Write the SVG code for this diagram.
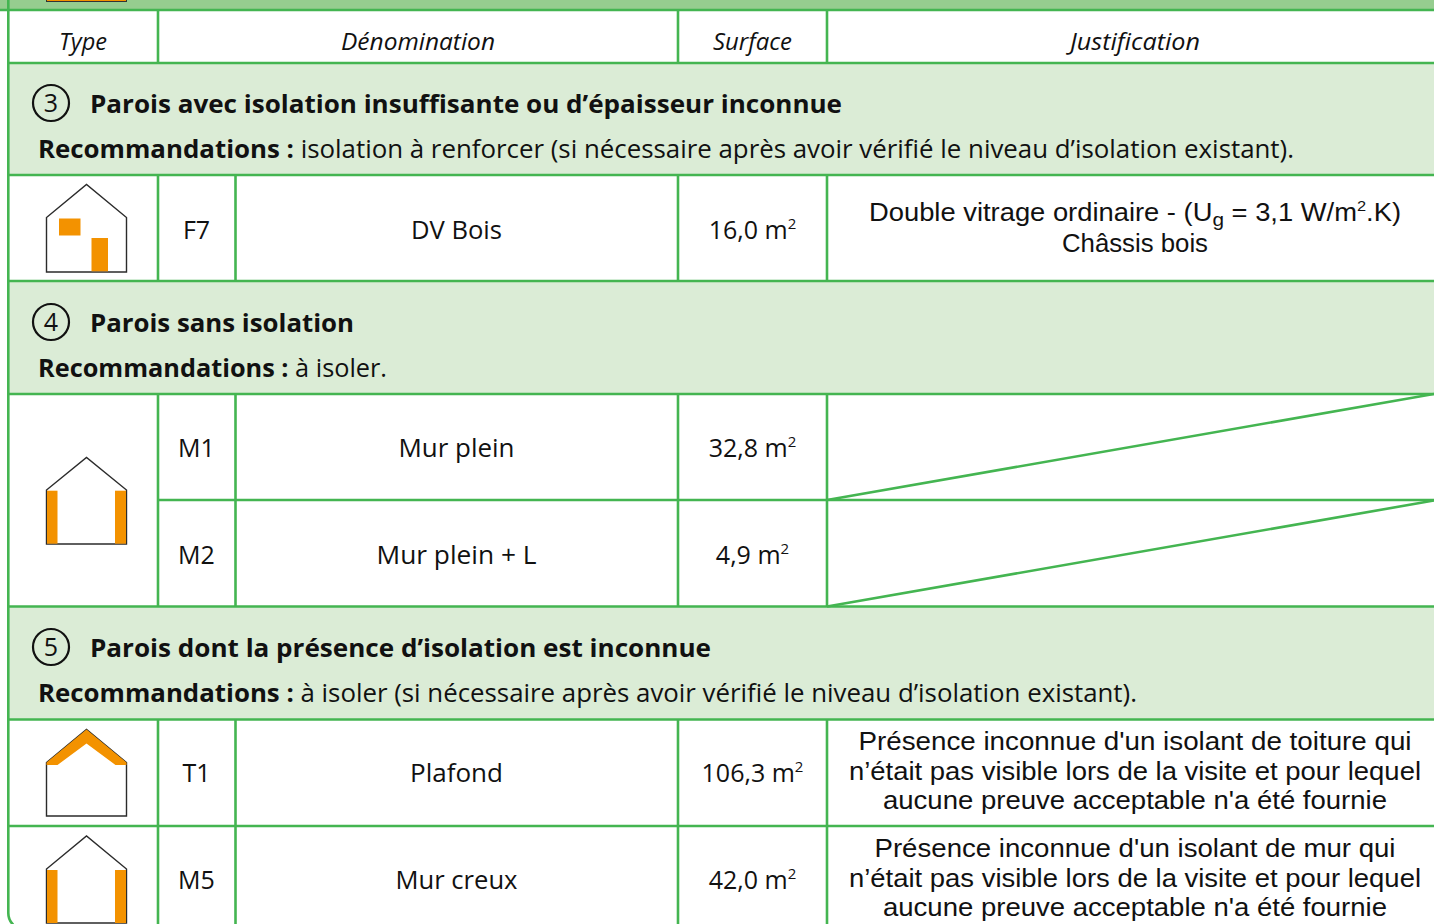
<svg xmlns="http://www.w3.org/2000/svg" width="1434" height="924" viewBox="0 0 1434 924">
<style>
.t{font-family:"Open Sans","Noto Sans","Liberation Sans",sans-serif;font-size:25px;fill:#111;}
.j{font-family:"Liberation Sans","Open Sans",sans-serif;font-size:25px;fill:#111;text-anchor:middle;}
.c{text-anchor:middle;}
.i{font-style:italic;font-size:24px;}
.b{font-weight:700;}
.ln{stroke:#44b551;stroke-width:2.6;fill:none;}
.band{fill:#dbecd6;}
.hs{fill:#fff;stroke:#2b2b2b;stroke-width:1.4;stroke-linejoin:miter;}
.or{fill:#f39200;}
.num{fill:none;stroke:#111;stroke-width:2.2;}
.sup{font-size:15px;}
</style>
<rect x="0" y="0" width="1434" height="924" fill="#fff"/>
<g id="top-band">
<rect x="0" y="0" width="1434" height="10" fill="#96cd8f"/>
<rect x="46.5" y="-20" width="80" height="21.5" fill="#f39200" stroke="#333" stroke-width="1"/>
</g>
<g id="bands">
<rect class="band" x="8" y="63" width="1426" height="112"/>
<rect class="band" x="8" y="281" width="1426" height="113"/>
<rect class="band" x="8" y="606.5" width="1426" height="113"/>
</g>
<g id="connectors">
<path class="ln" d="M0,10H1434M8.3,63H1434M8.3,175H1434M8.3,281H1434M8.3,394H1434M158,500H1434M8.3,606.5H1434M8.3,719.5H1434M8.3,826H1434"/>
<path class="ln" d="M158,10V63M678,10V63M827,10V63"/>
<path class="ln" d="M158,175V281M235.5,175V281M678,175V281M827,175V281"/>
<path class="ln" d="M158,394V606.5M235.5,394V606.5M678,394V606.5M827,394V606.5"/>
<path class="ln" d="M158,719.5V930M235.5,719.5V930M678,719.5V930M827,719.5V930"/>
<path class="ln" d="M827,500L1434,394M827,606.5L1434,500.5"/>
<path class="ln" d="M8.3,0V913A16.5,16.5 0 0 0 24.8,929.5H1434"/>
</g>
<g id="header">
<text class="t i c" x="83" y="50" textLength="48" lengthAdjust="spacingAndGlyphs">Type</text>
<text class="t i c" x="418" y="50" textLength="154" lengthAdjust="spacingAndGlyphs">Dénomination</text>
<text class="t i c" x="752.5" y="50" textLength="79" lengthAdjust="spacingAndGlyphs">Surface</text>
<text class="t i c" x="1135" y="50" textLength="130" lengthAdjust="spacingAndGlyphs">Justification</text>
</g>
<g id="section-3">
<circle class="num" cx="51" cy="103" r="18"/>
<text class="t c" x="51" y="112">3</text>
<text class="t b" x="90" y="113" textLength="752" lengthAdjust="spacingAndGlyphs">Parois avec isolation insuffisante ou d’épaisseur inconnue</text>
<text class="t" x="38" y="158" textLength="1256" lengthAdjust="spacingAndGlyphs"><tspan class="b">Recommandations :</tspan> isolation à renforcer (si nécessaire après avoir vérifié le niveau d’isolation existant).</text>
</g>
<g id="row-F7">
<path class="hs" d="M46.5,272V217.5L86.5,184.5L126.5,217.5V272Z"/>
<rect class="or" x="59" y="218.5" width="21.5" height="17"/>
<rect class="or" x="91.5" y="238" width="16.5" height="33.3"/>
<text class="t c" x="196.5" y="239">F7</text>
<text class="t c" x="456.5" y="239" textLength="91" lengthAdjust="spacingAndGlyphs">DV Bois</text>
<text class="t c" x="752.5" y="239">16,0 m<tspan class="sup" dy="-10">2</tspan></text>
<text class="j" x="1135" y="221" textLength="532" lengthAdjust="spacingAndGlyphs">Double vitrage ordinaire - (U<tspan font-size="19" dy="5">g</tspan><tspan dy="-5"> = 3,1 W/m</tspan><tspan class="sup" dy="-10">2</tspan><tspan dy="10">.K)</tspan></text>
<text class="j" x="1135" y="252" textLength="146" lengthAdjust="spacingAndGlyphs">Châssis bois</text>
</g>
<g id="section-4">
<circle class="num" cx="51" cy="322" r="18"/>
<text class="t c" x="51" y="331">4</text>
<text class="t b" x="90" y="332" textLength="264" lengthAdjust="spacingAndGlyphs">Parois sans isolation</text>
<text class="t" x="38" y="377" textLength="349" lengthAdjust="spacingAndGlyphs"><tspan class="b">Recommandations :</tspan> à isoler.</text>
</g>
<g id="icon-M1-M2">
<path class="hs" d="M46.5,544V490L86.5,457.5L126.5,490V544Z"/>
<rect class="or" x="47" y="490.7" width="10.5" height="53"/>
<rect class="or" x="115" y="490.7" width="11" height="53"/>
</g>
<g id="row-M1">
<text class="t c" x="196.5" y="457">M1</text>
<text class="t c" x="456.5" y="457" textLength="116" lengthAdjust="spacingAndGlyphs">Mur plein</text>
<text class="t c" x="752.5" y="457">32,8 m<tspan class="sup" dy="-10">2</tspan></text>
</g>
<g id="row-M2">
<text class="t c" x="196.5" y="564">M2</text>
<text class="t c" x="456.5" y="564" textLength="160" lengthAdjust="spacingAndGlyphs">Mur plein + L</text>
<text class="t c" x="752.5" y="564">4,9 m<tspan class="sup" dy="-10">2</tspan></text>
</g>
<g id="section-5">
<circle class="num" cx="51" cy="647" r="18"/>
<text class="t c" x="51" y="656">5</text>
<text class="t b" x="90" y="657" textLength="621" lengthAdjust="spacingAndGlyphs">Parois dont la présence d’isolation est inconnue</text>
<text class="t" x="38" y="702" textLength="1099" lengthAdjust="spacingAndGlyphs"><tspan class="b">Recommandations :</tspan> à isoler (si nécessaire après avoir vérifié le niveau d’isolation existant).</text>
</g>
<g id="row-T1">
<path class="hs" d="M46.5,816V762.5L86.5,729.5L126.5,762.5V816Z"/>
<path class="or" d="M46.5,762.5L86.5,729.5L126.5,762.5V765H115.5L86.5,743.5L57.5,765H46.5Z"/>
<text class="t c" x="196.5" y="782">T1</text>
<text class="t c" x="456.5" y="782" textLength="93" lengthAdjust="spacingAndGlyphs">Plafond</text>
<text class="t c" x="752.5" y="782">106,3 m<tspan class="sup" dy="-10">2</tspan></text>
<text class="j" x="1135" y="750" textLength="553" lengthAdjust="spacingAndGlyphs">Présence inconnue d'un isolant de toiture qui</text>
<text class="j" x="1135" y="780" textLength="572" lengthAdjust="spacingAndGlyphs">n’était pas visible lors de la visite et pour lequel</text>
<text class="j" x="1135" y="809" textLength="504" lengthAdjust="spacingAndGlyphs">aucune preuve acceptable n'a été fournie</text>
</g>
<g id="row-M5">
<path class="hs" d="M46.5,923V869L86.5,836L126.5,869V923Z"/>
<rect class="or" x="47" y="870" width="10.5" height="53"/>
<rect class="or" x="115" y="870" width="11" height="53"/>
<text class="t c" x="196.5" y="889">M5</text>
<text class="t c" x="456.5" y="889" textLength="122" lengthAdjust="spacingAndGlyphs">Mur creux</text>
<text class="t c" x="752.5" y="889">42,0 m<tspan class="sup" dy="-10">2</tspan></text>
<text class="j" x="1135" y="857" textLength="521" lengthAdjust="spacingAndGlyphs">Présence inconnue d'un isolant de mur qui</text>
<text class="j" x="1135" y="887" textLength="572" lengthAdjust="spacingAndGlyphs">n’était pas visible lors de la visite et pour lequel</text>
<text class="j" x="1135" y="916" textLength="504" lengthAdjust="spacingAndGlyphs">aucune preuve acceptable n'a été fournie</text>
</g>
</svg>
